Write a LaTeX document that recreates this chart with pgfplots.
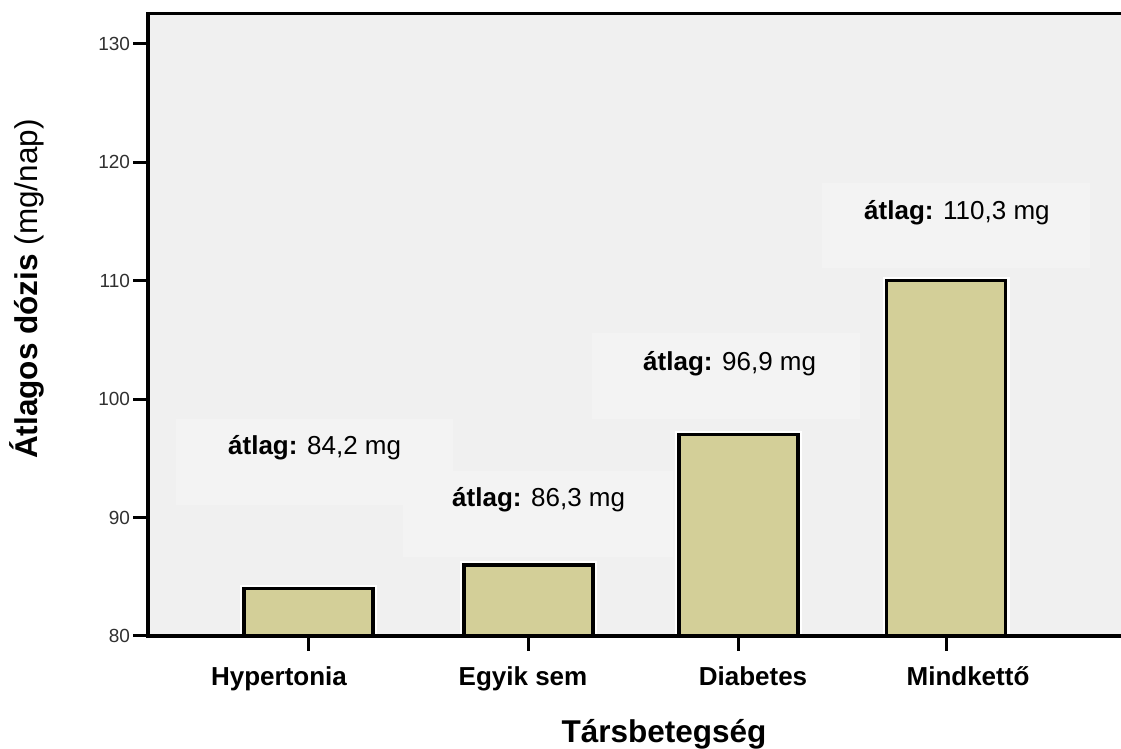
\documentclass[border=0pt]{standalone}
\usepackage{fontspec}
\setmainfont{Liberation Sans}
\usepackage{pgfplots}
\pgfplotsset{compat=1.18}
\definecolor{plotbg}{HTML}{F0F0F0}
\definecolor{boxbg}{HTML}{F3F3F3}
\definecolor{barfill}{HTML}{D3CF98}
\definecolor{ticktext}{HTML}{303030}

\begin{document}
\begin{tikzpicture}
\begin{axis}[
    name=ax,
    set layers=standard,
    scale only axis,
    width=973pt, height=622.3pt,
    xmin=148, xmax=1121,
    ymin=80, ymax=132.53,
    axis background/.style={fill=plotbg},
    axis line style={draw=none},
    tick pos=left,
    ytick={80,90,...,130},
    xtick={308.5,528.5,738.3,946.2},
    xticklabels={{},{},{},{}},
    tick align=outside,
    major tick length=14.5pt,
    every tick/.style={black, line width=3pt},
    yticklabel style={font=\fontsize{19}{22}\selectfont, text=ticktext},
    /pgf/number format/assume math mode=true,
    clip mode=individual,
    ybar,
]
% subtle label boxes
\fill[boxbg, on layer=axis background] (axis cs:176,91.06) rectangle (axis cs:453,98.32);
\fill[boxbg, on layer=axis background] (axis cs:403,86.67) rectangle (axis cs:673,93.93);
\fill[boxbg, on layer=axis background] (axis cs:592,98.32) rectangle (axis cs:860,105.58);
\fill[boxbg, on layer=axis background] (axis cs:822,111.07) rectangle (axis cs:1090,118.24);

% white halo, then bars
\addplot[bar shift=0pt, bar width=129, fill=none, draw=white, line width=8pt]
  coordinates {(308.5,84) (528.5,86)};
\addplot[bar shift=0pt, bar width=119, fill=none, draw=white, line width=8pt]
  coordinates {(738.3,97) (946.2,110)};
\addplot[bar shift=0pt, bar width=129, fill=barfill, draw=black, line width=3.5pt]
  coordinates {(308.5,84) (528.5,86)};
\addplot[bar shift=0pt, bar width=119, fill=barfill, draw=black, line width=3.5pt]
  coordinates {(738.3,97) (946.2,110)};

% spines (no right spine)
\draw[black, line width=3.5pt, on layer=axis foreground]
  (rel axis cs:1,1) -- (rel axis cs:0,1) -- (rel axis cs:0,0) -- (rel axis cs:1,0);

% value annotations
\begin{scope}[every node/.style={inner sep=0pt, anchor=base west, font=\fontsize{26}{30}\selectfont}]
\node at (axis cs:228,95.28) {\textbf{átlag:} 84,2 mg};
\node at (axis cs:452,90.97) {\textbf{átlag:} 86,3 mg};
\node at (axis cs:643,102.4) {\textbf{átlag:} 96,9 mg};
\node at (axis cs:864,115.12) {\textbf{átlag:} 110,3 mg};
\end{scope}

% category labels
\begin{scope}[every node/.style={inner sep=0pt, anchor=base, font=\fontsize{26}{30}\selectfont\bfseries}]
\node at (axis cs:279,75.78) {Hypertonia};
\node at (axis cs:523,75.78) {Egyik sem};
\node at (axis cs:753,75.78) {Diabetes};
\node at (axis cs:968,75.78) {Mindkettő};
\end{scope}

% axis titles
\node[inner sep=0pt, anchor=base, font=\fontsize{31.5}{36}\selectfont\bfseries]
  at (axis cs:664,70.97) {Társbetegség};
\node[inner sep=0pt, anchor=base, rotate=90, font=\fontsize{31.5}{36}\selectfont]
  at (axis cs:38,109.29) {\textbf{Átlagos dózis} (mg/nap)};
\end{axis}
\pgfresetboundingbox
\path[use as bounding box] ([xshift=-148pt,yshift=-113pt]ax.south west) rectangle ([yshift=13.7pt]ax.north east);
\end{tikzpicture}
\end{document}
